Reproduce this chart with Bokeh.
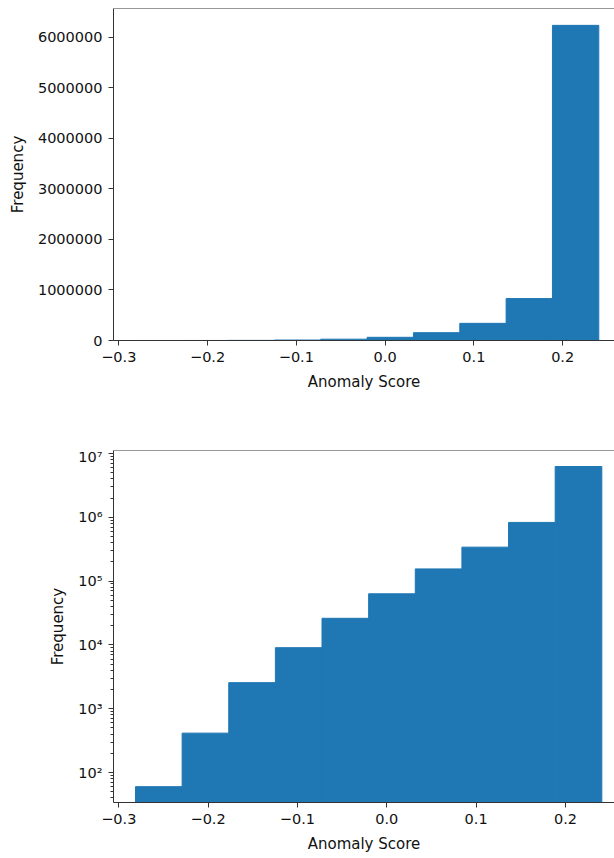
from bokeh.plotting import figure
from bokeh.layouts import column
from bokeh.models import Range1d, FixedTicker, CustomJSTickFormatter, Span, LogTicker
from bokeh.embed import file_html
from bokeh.resources import INLINE

# histogram data (10 bins of anomaly score)
bin_edges = [-0.2813, -0.2291, -0.1769, -0.1247, -0.0725, -0.0203,
             0.0319, 0.0841, 0.1363, 0.1885, 0.2407]
counts = [60, 414, 2560, 9040, 26100, 63200, 155000, 340000, 830000, 6240000]
x_ticks = [-0.3, -0.2, -0.1, 0.0, 0.1, 0.2]
lin_ticks = [0, 1000000, 2000000, 3000000, 4000000, 5000000, 6000000]
log_ticks = [100, 1000, 10000, 100000, 1000000, 10000000]

BAR = "#1f77b4"
TXT = "#111111"
SPINE = "#333333"
FONT = "DejaVu Sans"
FS_TICK = "14.5px"
FS_LAB = "15px"

lefts = bin_edges[:-1]
rights = bin_edges[1:]

xfmt = CustomJSTickFormatter(code="""
    if (Math.abs(tick) < 1e-9) { return "0.0"; }
    return tick.toFixed(1).replace("-", "\u2212");
""")
logfmt = CustomJSTickFormatter(code="""
    const sup = {"0":"\u2070","1":"\u00b9","2":"\u00b2","3":"\u00b3","4":"\u2074",
                 "5":"\u2075","6":"\u2076","7":"\u2077","8":"\u2078","9":"\u2079"};
    const e = Math.round(Math.log10(tick));
    return "10" + String(e).split("").map(c => sup[c]).join("");
""")
linfmt = CustomJSTickFormatter(code="return String(Math.round(tick));")


def style(p):
    p.outline_line_color = None
    p.grid.grid_line_color = None
    p.background_fill_color = "white"
    p.border_fill_color = "white"
    for ax in (p.xaxis[0], p.yaxis[0]):
        ax.axis_line_color = SPINE
        ax.axis_line_width = 1
        ax.major_tick_line_color = SPINE
        ax.major_tick_out = 5
        ax.major_tick_in = 0
        ax.major_label_text_font = FONT
        ax.major_label_text_font_size = FS_TICK
        ax.major_label_text_color = TXT
        ax.axis_label_text_font = FONT
        ax.axis_label_text_font_size = FS_LAB
        ax.axis_label_text_font_style = "normal"
        ax.axis_label_text_color = TXT
        ax.major_label_standoff = 6
        ax.axis_label_standoff = 8
    p.xaxis[0].minor_tick_line_color = None
    p.xaxis[0].ticker = FixedTicker(ticks=x_ticks)
    p.xaxis[0].formatter = xfmt
    p.xaxis[0].axis_label = "Anomaly Score"
    p.yaxis[0].axis_label = "Frequency"


# ---- top: linear frequency ----
p1 = figure(width=614, height=448, output_backend="svg", toolbar_location=None,
            x_range=Range1d(-0.306, 0.2584), y_range=Range1d(0, 6574000),
            min_border_left=112, min_border_right=0, min_border_top=8,
            min_border_bottom=108)
p1.quad(left=lefts, right=rights, bottom=0, top=counts,
        fill_color=BAR, line_color=BAR, line_width=1)
style(p1)
p1.yaxis[0].ticker = FixedTicker(ticks=lin_ticks)
p1.yaxis[0].formatter = linfmt
p1.yaxis[0].minor_tick_line_color = None
p1.add_layout(Span(location=6574000, dimension="width", line_color=SPINE, line_width=1))

# ---- bottom: log frequency ----
p2 = figure(width=614, height=410, output_backend="svg", toolbar_location=None,
            y_axis_type="log",
            x_range=Range1d(-0.3059, 0.2549), y_range=Range1d(10 ** 1.53, 10 ** 7.046),
            min_border_left=113, min_border_right=0, min_border_top=2,
            min_border_bottom=56)
p2.quad(left=lefts, right=rights, bottom=1, top=counts,
        fill_color=BAR, line_color=BAR, line_width=1)
style(p2)
p2.yaxis[0].ticker = LogTicker(desired_num_ticks=6, num_minor_ticks=10)
p2.yaxis[0].formatter = logfmt
p2.yaxis[0].minor_tick_line_color = SPINE
p2.yaxis[0].minor_tick_out = 3
p2.yaxis[0].minor_tick_in = 0
p2.add_layout(Span(location=10 ** 7.046, dimension="width", line_color=SPINE, line_width=1))

layout = column(p1, p2, spacing=0)
open("out.html", "w").write(file_html(layout, INLINE))
